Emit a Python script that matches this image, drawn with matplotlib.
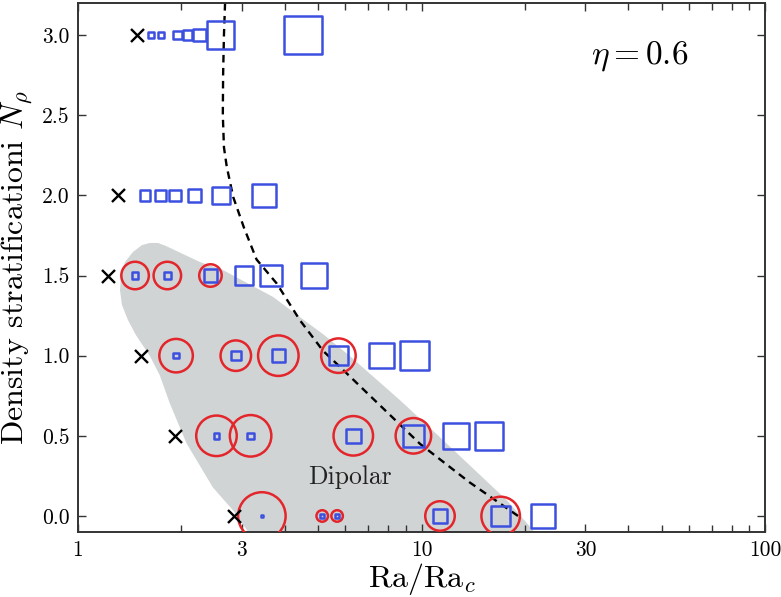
import numpy as np
import matplotlib
matplotlib.use("Agg")
import matplotlib.pyplot as plt
from matplotlib.patches import Polygon

plt.rcParams['font.family'] = 'serif'
plt.rcParams['font.serif'] = ['cmr10', 'DejaVu Serif']
plt.rcParams['mathtext.fontset'] = 'cm'
plt.rcParams['axes.formatter.use_mathtext'] = True

# ---------------- data ----------------
# Non-convecting runs (crosses)
cross_ra = [1.49, 1.31, 1.225, 1.53, 1.91, 2.85]
cross_np = [3.0, 2.0, 1.5, 1.0, 0.5, 0.0]

# Squares (symbol size in pixels encodes a quantity)
sq_ra = [1.63, 1.745, 1.95, 2.08, 2.26, 2.60, 4.52,
         1.567, 1.741, 1.916, 2.18, 2.61, 3.48,
         1.466, 1.82, 2.43, 3.04, 3.65, 4.86,
         1.93, 2.88, 3.83, 5.73, 7.66, 9.53,
         2.53, 3.18, 6.33, 9.47, 12.6, 15.7,
         3.43, 5.14, 5.68, 11.32, 17.0, 22.6]
sq_np = [3.0] * 7 + [2.0] * 6 + [1.5] * 6 + [1.0] * 6 + [0.5] * 6 + [0.0] * 6
sq_size = [7, 7, 10, 11, 14, 29, 40,
           12, 12, 13, 15, 19, 25,
           8, 9, 15, 20, 23, 27,
           7, 11, 15, 21, 27, 30,
           7, 8, 16, 23, 27, 30,
           3, 6, 6, 15, 21, 25]

# Circles (dipole strength)
ci_ra = [1.466, 1.82, 2.43,
         1.93, 2.88, 3.83, 5.73,
         2.53, 3.18, 6.33, 9.47,
         3.43, 5.14, 5.68, 11.32, 17.0]
ci_np = [1.5] * 3 + [1.0] * 4 + [0.5] * 4 + [0.0] * 5
ci_size = [29, 29, 24,
           35, 32, 42, 36,
           42, 43, 41, 37,
           49, 13, 13, 31, 40]

# Dashed boundary curve
dash_ra = [2.68, 2.66, 2.645, 2.64, 2.66, 2.71, 2.83, 3.04, 3.31, 3.79,
           4.43, 5.17, 5.79, 7.57, 9.90, 13.8, 19.1]
dash_np = [3.20, 3.00, 2.75, 2.50, 2.30, 2.18, 1.99, 1.80, 1.60, 1.45,
           1.22, 1.03, 0.93, 0.69, 0.45, 0.21, 0.0]

# Dipolar region outline
dip_ra = [3.17, 3.13, 2.83, 2.47, 2.07, 1.85, 1.73, 1.62, 1.475, 1.398,
          1.343, 1.325, 1.334, 1.370, 1.446, 1.536, 1.62, 1.71, 1.804,
          2.265, 2.643, 3.70, 4.40, 5.20, 6.19, 8.66, 11.32, 17.74, 21.4, 23.2]
dip_np = [-0.18, -0.10, 0.034, 0.178, 0.453, 0.703, 0.878, 0.997, 1.128, 1.222,
          1.316, 1.409, 1.497, 1.584, 1.647, 1.690, 1.703, 1.703, 1.684,
          1.584, 1.534, 1.366, 1.245, 1.130, 0.997, 0.722, 0.491, 0.097, -0.103, -0.18]

xtick_vals = [1, 3, 10, 30, 100]
xtick_labels = ['1', '3', '10', '30', '100']
ytick_vals = [0.0, 0.5, 1.0, 1.5, 2.0, 2.5, 3.0]
ytick_labels = ['0.0', '0.5', '1.0', '1.5', '2.0', '2.5', '3.0']

# ---------------- figure ----------------
DPI = 100
fig = plt.figure(figsize=(7.81, 5.97), dpi=DPI)
ax = fig.add_axes([78 / 781, 65 / 597, 687 / 781, 529 / 597])

px2pt = 72.0 / DPI
LW = 1.8

ax.add_patch(Polygon(np.column_stack([dip_ra, dip_np]), closed=True,
                     facecolor='#d1d4d4', edgecolor='none', zorder=0))

ax.plot(dash_ra, dash_np, color='black', lw=1.7, dashes=(3.2, 2.3), zorder=2)

ci_s = [((d - 1.5) * px2pt) ** 2 for d in ci_size]
ax.scatter(ci_ra, ci_np, s=ci_s, marker='o', facecolors='none',
           edgecolors='#e3262b', linewidths=LW, zorder=3)

sq_s = [(max(d - 1.5, 1.2) * px2pt) ** 2 for d in sq_size]
ax.scatter(sq_ra, sq_np, s=sq_s, marker='s', facecolors='none',
           edgecolors='#3c50e0', linewidths=LW, zorder=4)

ax.scatter(cross_ra, cross_np, s=(13 * px2pt) ** 2, marker='x',
           color='black', linewidths=1.7, zorder=5)

ax.text(6.2, 0.24, 'Dipolar', fontsize=18.5, color='#222222',
        ha='center', va='center', zorder=6)
ax.text(0.817, 0.90, r'$\eta = 0.6$', fontsize=24, transform=ax.transAxes,
        ha='center', va='center')

ax.set_xscale('log')
ax.set_xlim(1, 100)
ax.set_ylim(-0.1, 3.2)
ax.set_xticks(xtick_vals)
ax.set_xticklabels(xtick_labels)
ax.set_yticks(ytick_vals)
ax.set_yticklabels(ytick_labels)
ax.tick_params(which='both', direction='in', top=True, right=True,
               labelsize=15.5, color='#333333')
ax.tick_params(which='major', length=6, width=1, pad=6)
ax.tick_params(which='minor', length=5, width=1)
for sp in ax.spines.values():
    sp.set_color('#333333')
    sp.set_linewidth(1.4)

ax.set_xlabel(r'$\mathrm{Ra}/\mathrm{Ra}_c$', fontsize=23, labelpad=1)
ax.set_ylabel(r'Density stratificationi $N_\rho$', fontsize=23, labelpad=5)

fig.savefig('out.png', dpi=DPI)
